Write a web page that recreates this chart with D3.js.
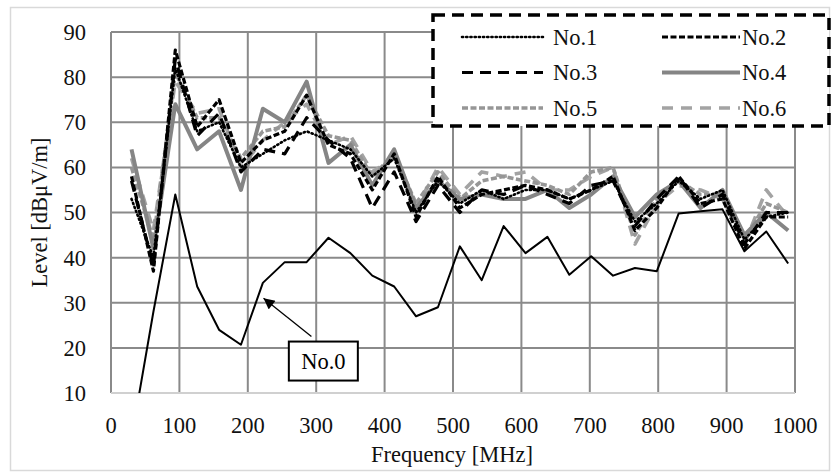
<!DOCTYPE html>
<html>
<head>
<meta charset="utf-8">
<script src="https://cdn.jsdelivr.net/npm/d3@7"></script>
<style>
  html, body { margin: 0; padding: 0; background: #fff; }
  svg { display: block; font-family: "Liberation Serif", "DejaVu Serif", serif; }
</style>
</head>
<body>
<svg id="chart" width="832" height="474"></svg>
<script>
"use strict";

/* measurement frequencies [MHz] */
const freqs = [30, 62, 94, 126, 158, 190, 222, 254, 286, 318, 350, 382, 414, 446, 478, 510,
  542, 574, 606, 638, 670, 702, 734, 766, 798, 830, 862, 894, 926, 958, 990];

/* levels [dBuV/m] */
const no0 = [0, 28, 54, 33.6, 24, 20.7, 34.4, 39, 39, 44.4, 41, 36, 33.6, 27, 29, 42.5,
  35, 47, 41, 44.6, 36.2, 40.3, 36, 37.7, 37, 49.8, 50.3, 50.7, 41.4, 45.8, 38.7];
const no1 = [53, 40, 82, 68, 70, 60, 63, 66, 68, 66, 64, 58, 62, 50, 57, 52,
  55, 53, 55, 55, 53, 55, 57, 48, 52, 57, 53, 55, 44, 49, 50];
const no2 = [58, 37, 86, 69, 75, 61, 66, 68, 76, 65, 63, 55, 63, 49, 58, 51,
  54, 55, 56, 55, 53, 55, 58, 46, 51, 58, 52, 53, 42, 49, 49];
const no3 = [57, 38, 84, 67, 72, 59, 64, 63, 71, 66, 62, 51, 59, 48, 56, 50,
  55, 54, 56, 54, 52, 56, 57, 47, 53, 58, 51, 54, 43, 50, 50];
const no4 = [64, 42, 74, 64, 68, 55, 73, 70, 79, 61, 65, 56, 64, 51, 57, 53,
  54, 53, 53, 55, 51, 54, 58, 49, 54, 57, 51, 55, 45, 50, 46];
const no5 = [60, 44, 81, 71, 71, 62, 68, 69, 76, 67, 66, 58, 63, 52, 59, 53,
  57, 58, 57, 56, 54, 59, 60, 45, 53, 57, 54, 54, 44, 52, 50];
const no6 = [62, 46, 79, 72, 73, 60, 66, 70, 74, 65, 67, 59, 62, 51, 60, 54,
  59, 58, 59, 55, 55, 58, 60, 43, 52, 56, 55, 53, 43, 55, 49];

const xTicks = [0, 100, 200, 300, 400, 500, 600, 700, 800, 900, 1000];
const yTicks = [10, 20, 30, 40, 50, 60, 70, 80, 90];

const FONT = 22.5;

/* series styles */
const series = [
  { name: "No.1", values: no1, color: "#000", width: 2.6, dash: "1.2,3", cap: "round" },
  { name: "No.2", values: no2, color: "#000", width: 3.2, dash: "6,2.5", cap: "butt" },
  { name: "No.3", values: no3, color: "#000", width: 3.2, dash: "11,7", cap: "butt" },
  { name: "No.4", values: no4, color: "#858585", width: 4, dash: null, cap: "butt" },
  { name: "No.5", values: no5, color: "#969696", width: 3.6, dash: "6,2.5", cap: "butt" },
  { name: "No.6", values: no6, color: "#a3a3a3", width: 3.6, dash: "11,8", cap: "butt" },
];

const svg = d3.select("#chart");
const x = d3.scaleLinear([0, 1000], [111, 795]);
const y = d3.scaleLinear([10, 90], [393, 32]);

/* outer chart frame */
svg.append("rect")
  .attr("x", 10.5).attr("y", 7.5).attr("width", 819).attr("height", 463)
  .attr("fill", "#fff").attr("stroke", "#d9d9d9").attr("stroke-width", 1.5);

/* grid */
const grid = svg.append("g").attr("stroke", "#8a8a8a").attr("stroke-width", 2);
grid.selectAll("line.h").data(yTicks.slice(1)).join("line")
  .attr("x1", x(0)).attr("x2", x(1000))
  .attr("y1", (d) => y(d)).attr("y2", (d) => y(d));
grid.selectAll("line.v").data(xTicks).join("line")
  .attr("x1", (d) => x(d)).attr("x2", (d) => x(d))
  .attr("y1", y(90)).attr("y2", y(10));
svg.append("line")
  .attr("x1", x(0)).attr("x2", x(1000)).attr("y1", y(10)).attr("y2", y(10))
  .attr("stroke", "#d0d0d0").attr("stroke-width", 2);

/* tick labels */
svg.append("g").attr("font-size", FONT).attr("fill", "#111")
  .selectAll("text").data(yTicks).join("text")
  .attr("x", 86).attr("y", (d) => y(d)).attr("dy", "0.35em")
  .attr("text-anchor", "end").text((d) => d);
svg.append("g").attr("font-size", FONT).attr("fill", "#111")
  .selectAll("text").data(xTicks).join("text")
  .attr("x", (d) => x(d)).attr("y", 425).attr("dy", "0.35em")
  .attr("text-anchor", "middle").text((d) => d);

svg.append("text")
  .attr("x", 452).attr("y", 454).attr("dy", "0.35em")
  .attr("text-anchor", "middle").attr("font-size", FONT).attr("fill", "#111")
  .text("Frequency [MHz]");
svg.append("text")
  .attr("transform", `translate(39,${y(50)}) rotate(-90)`)
  .attr("dy", "0.35em")
  .attr("text-anchor", "middle").attr("font-size", FONT).attr("fill", "#111")
  .text("Level [dBμV/m]");

/* clip to plot area */
svg.append("clipPath").attr("id", "plot")
  .append("rect").attr("x", x(0)).attr("y", y(90) - 10)
  .attr("width", x(1000) - x(0) + 10).attr("height", y(10) - y(90) + 10);

const line = (vals) => d3.line().x((d, i) => x(freqs[i])).y((d) => y(d))(vals);
const plot = svg.append("g").attr("clip-path", "url(#plot)");

plot.append("path")
  .attr("d", line(no0)).attr("fill", "none")
  .attr("stroke", "#000").attr("stroke-width", 2).attr("stroke-linejoin", "round");

/* draw the gray ones first, black on top */
for (const s of [series[5], series[4], series[3], series[2], series[1], series[0]]) {
  plot.append("path")
    .attr("d", line(s.values)).attr("fill", "none")
    .attr("stroke", s.color).attr("stroke-width", s.width)
    .attr("stroke-dasharray", s.dash).attr("stroke-linecap", s.cap)
    .attr("stroke-linejoin", "round");
}

/* No.0 annotation */
svg.append("defs").append("marker")
  .attr("id", "arrow").attr("viewBox", "0 -5 10 10")
  .attr("refX", 10).attr("markerWidth", 12).attr("markerHeight", 11)
  .attr("markerUnits", "userSpaceOnUse").attr("orient", "auto")
  .append("path").attr("d", "M0,-5L10,0L0,5Z").attr("fill", "#000");
svg.append("line")
  .attr("x1", x(293)).attr("y1", y(22.5))
  .attr("x2", x(223)).attr("y2", y(31))
  .attr("stroke", "#000").attr("stroke-width", 1.3).attr("marker-end", "url(#arrow)");
svg.append("rect")
  .attr("x", x(260)).attr("y", y(21.4)).attr("width", 69).attr("height", 39)
  .attr("fill", "#fff").attr("stroke", "#000").attr("stroke-width", 2);
svg.append("text")
  .attr("x", x(260) + 34.5).attr("y", y(21.4) + 20).attr("dy", "0.35em")
  .attr("text-anchor", "middle").attr("font-size", FONT).text("No.0");

/* legend */
const legend = svg.append("g");
legend.append("rect")
  .attr("x", 433).attr("y", 15).attr("width", 396).attr("height", 111)
  .attr("fill", "#fff").attr("stroke", "#000").attr("stroke-width", 3.5)
  .attr("stroke-dasharray", "12,7");
const item = legend.selectAll("g.item").data(series).join("g")
  .attr("transform", (d, i) => `translate(${i % 2 ? 662 : 462},${37 + Math.floor(i / 2) * 35.5})`);
item.append("line")
  .attr("x1", 0).attr("x2", (d, i) => (i % 2 ? 78 : 81)).attr("y1", 0).attr("y2", 0)
  .attr("stroke", (d) => d.color).attr("stroke-width", (d) => d.width)
  .attr("stroke-dasharray", (d) => d.dash).attr("stroke-linecap", (d) => d.cap);
item.append("text")
  .attr("x", (d, i) => (i % 2 ? 80 : 91)).attr("dy", "0.35em")
  .attr("font-size", FONT).attr("fill", "#111")
  .text((d) => d.name);
</script>
</body>
</html>
